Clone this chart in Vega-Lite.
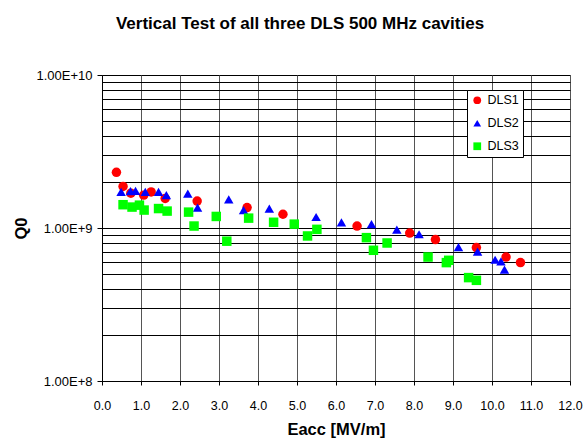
{
  "$schema": "https://vega.github.io/schema/vega-lite/v6.json",
  "width": 468,
  "height": 306,
  "autosize": "none",
  "padding": {"left": 102, "top": 75, "right": 14, "bottom": 66},
  "background": "white",
  "config": {
    "font": "Liberation Sans",
    "view": {"stroke": "black", "strokeWidth": 1},
    "axisX": {"labelOverlap": false, "labelFlush": false}
  },
  "title": {
    "text": "Vertical Test of all three DLS 500 MHz cavities",
    "font": "Liberation Sans",
    "fontSize": 17,
    "fontWeight": "bold",
    "color": "black",
    "anchor": "middle",
    "offset": 36,
    "dx": -36
  },
  "data": {
    "values": [
      {"s": "DLS1", "x": 0.37, "q": 2.31e9},
      {"s": "DLS1", "x": 0.54, "q": 1.87e9},
      {"s": "DLS1", "x": 0.74, "q": 1.69e9},
      {"s": "DLS1", "x": 1.07, "q": 1.64e9},
      {"s": "DLS1", "x": 1.26, "q": 1.72e9},
      {"s": "DLS1", "x": 1.62, "q": 1.56e9},
      {"s": "DLS1", "x": 2.44, "q": 1.50e9},
      {"s": "DLS1", "x": 3.72, "q": 1.36e9},
      {"s": "DLS1", "x": 4.64, "q": 1.23e9},
      {"s": "DLS1", "x": 6.54, "q": 1.03e9},
      {"s": "DLS1", "x": 7.89, "q": 9.27e8},
      {"s": "DLS1", "x": 8.55, "q": 8.4e8},
      {"s": "DLS1", "x": 9.6, "q": 7.45e8},
      {"s": "DLS1", "x": 10.36, "q": 6.46e8},
      {"s": "DLS1", "x": 10.73, "q": 5.94e8},
      {"s": "DLS2", "x": 0.49, "q": 1.72e9},
      {"s": "DLS2", "x": 0.73, "q": 1.74e9},
      {"s": "DLS2", "x": 0.86, "q": 1.75e9},
      {"s": "DLS2", "x": 1.11, "q": 1.72e9},
      {"s": "DLS2", "x": 1.45, "q": 1.72e9},
      {"s": "DLS2", "x": 1.65, "q": 1.64e9},
      {"s": "DLS2", "x": 2.2, "q": 1.68e9},
      {"s": "DLS2", "x": 2.45, "q": 1.36e9},
      {"s": "DLS2", "x": 3.25, "q": 1.54e9},
      {"s": "DLS2", "x": 3.63, "q": 1.31e9},
      {"s": "DLS2", "x": 4.29, "q": 1.34e9},
      {"s": "DLS2", "x": 5.49, "q": 1.18e9},
      {"s": "DLS2", "x": 6.14, "q": 1.09e9},
      {"s": "DLS2", "x": 6.91, "q": 1.06e9},
      {"s": "DLS2", "x": 7.56, "q": 9.77e8},
      {"s": "DLS2", "x": 8.13, "q": 9.1e8},
      {"s": "DLS2", "x": 9.14, "q": 7.5e8},
      {"s": "DLS2", "x": 9.63, "q": 7.0e8},
      {"s": "DLS2", "x": 10.08, "q": 6.2e8},
      {"s": "DLS2", "x": 10.23, "q": 6.05e8},
      {"s": "DLS2", "x": 10.32, "q": 5.35e8},
      {"s": "DLS3", "x": 0.54, "q": 1.42e9},
      {"s": "DLS3", "x": 0.77, "q": 1.37e9},
      {"s": "DLS3", "x": 0.96, "q": 1.41e9},
      {"s": "DLS3", "x": 1.08, "q": 1.31e9},
      {"s": "DLS3", "x": 1.45, "q": 1.34e9},
      {"s": "DLS3", "x": 1.67, "q": 1.29e9},
      {"s": "DLS3", "x": 2.22, "q": 1.27e9},
      {"s": "DLS3", "x": 2.36, "q": 1.03e9},
      {"s": "DLS3", "x": 2.93, "q": 1.19e9},
      {"s": "DLS3", "x": 3.2, "q": 8.2e8},
      {"s": "DLS3", "x": 3.76, "q": 1.16e9},
      {"s": "DLS3", "x": 4.4, "q": 1.09e9},
      {"s": "DLS3", "x": 4.93, "q": 1.06e9},
      {"s": "DLS3", "x": 5.27, "q": 8.87e8},
      {"s": "DLS3", "x": 5.51, "q": 9.8e8},
      {"s": "DLS3", "x": 6.78, "q": 8.65e8},
      {"s": "DLS3", "x": 6.96, "q": 7.15e8},
      {"s": "DLS3", "x": 7.31, "q": 7.98e8},
      {"s": "DLS3", "x": 8.36, "q": 6.46e8},
      {"s": "DLS3", "x": 8.89, "q": 6.15e8},
      {"s": "DLS3", "x": 8.83, "q": 5.94e8},
      {"s": "DLS3", "x": 9.4, "q": 4.74e8},
      {"s": "DLS3", "x": 9.6, "q": 4.55e8}
    ]
  },
  "layer": [
    {
      "mark": {"type": "point", "filled": true, "opacity": 0},
      "encoding": {
        "x": {"field": "x", "type": "quantitative", "scale": {"domain": [0, 12], "nice": false, "zero": false},
          "axis": {"values": [0,1,2,3,4,5,6,7,8,9,10,11,12], "format": ".1f", "labelOverlap": false, "grid": true, "gridColor": "#555555", "gridWidth": 1, "gridOpacity": 1,
            "domainColor": "black", "tickColor": "black", "tickSize": 4, "labelFontSize": 12.5, "labelColor": "black", "labelPadding": 14, "labelFont": "Liberation Sans",
            "title": "Eacc [MV/m]", "titleFontSize": 16.5, "titleFontWeight": "bold", "titleColor": "black", "titlePadding": 10, "titleFont": "Liberation Sans"}},
        "y": {"field": "q", "type": "quantitative", "scale": {"type": "log", "domain": [1e8, 1e10], "nice": false},
          "axis": {"orient": "left", "values": [2e8,3e8,4e8,5e8,6e8,7e8,8e8,9e8,1e9,2e9,3e9,4e9,5e9,6e9,7e9,8e9,9e9], "grid": true, "gridColor": "black", "gridWidth": 1, "gridOpacity": 1,
            "labels": false, "ticks": false, "domain": false, "title": null}}
      }
    },
    {
      "mark": {"type": "point", "filled": true, "opacity": 1, "size": 90},
      "encoding": {
        "x": {"field": "x", "type": "quantitative",
          "axis": {"values": [0,1,2,3,4,5,6,7,8,9,10,11,12], "format": ".1f", "labelOverlap": false, "grid": true, "gridColor": "#555555", "gridWidth": 1, "gridOpacity": 1,
            "domainColor": "black", "tickColor": "black", "tickSize": 4, "labelFontSize": 12.5, "labelColor": "black", "labelPadding": 14, "labelFont": "Liberation Sans",
            "title": "Eacc [MV/m]", "titleFontSize": 16.5, "titleFontWeight": "bold", "titleColor": "black", "titlePadding": 10, "titleFont": "Liberation Sans"}},
        "y": {"field": "q", "type": "quantitative",
          "axis": {"orient": "left", "values": [1e8, 1e9, 1e10], "grid": false, "labelExpr": "replace(format(datum.value, '.2e'), 'e', 'E')", "labelOverlap": false,
            "domainColor": "black", "tickColor": "black", "tickSize": 5, "labelFontSize": 13, "labelColor": "black", "labelFont": "Liberation Sans", "labelPadding": 5,
            "title": "Q0", "titleFontSize": 16.5, "titleFontWeight": "bold", "titleColor": "black", "titlePadding": 6, "titleFont": "Liberation Sans"}},
        "color": {"field": "s", "type": "nominal", "scale": {"domain": ["DLS1", "DLS2", "DLS3"], "range": ["#ff0000", "#0000ff", "#00ff00"]},
          "legend": {"title": null, "orient": "none", "legendX": 365, "legendY": 15, "fillColor": "white", "strokeColor": "black", "padding": 4,
            "labelFontSize": 12.5, "labelFont": "Liberation Sans", "labelColor": "black", "symbolSize": 60, "rowPadding": 10, "labelOffset": 4}},
        "shape": {"field": "s", "type": "nominal", "scale": {"domain": ["DLS1", "DLS2", "DLS3"], "range": ["circle", "triangle-up", "square"]}, "legend": null}
      }
    }
  ],
  "resolve": {"axis": {"y": "independent"}}
}
